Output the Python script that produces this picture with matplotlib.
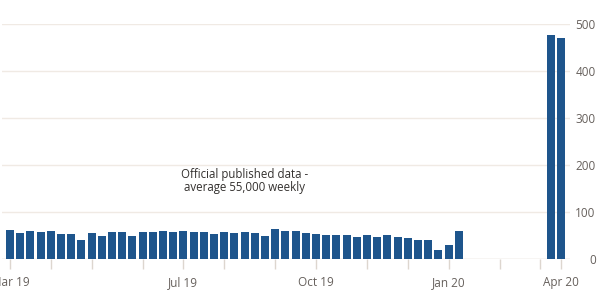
import matplotlib.pyplot as plt

# weekly claims, thousands (weeks from Mar 2019 to Jan 2020)
official = [62, 55, 59.5, 57.5, 59.5, 54.5, 53.5, 40, 56.5, 49.5,
            57, 57, 48.5, 57, 57, 60, 57.5, 59.5, 57, 57.5,
            54.5, 59, 55, 57, 56.5, 48.5, 65, 61, 59.5, 56.5,
            54.5, 51, 52.5, 51, 48, 52.5, 48, 51, 48, 46,
            42, 42, 19, 31, 60]
official_weeks = list(range(len(official)))

# the two latest weeks, late March 2020
recent = [476, 471]
recent_weeks = [53, 54]

month_weeks = [0, 4, 8, 13, 17, 21, 26, 30, 35, 39, 43, 48, 52, 54]
month_labels = ["Mar 19", "", "", "", "Jul 19", "", "", "Oct 19", "", "",
                "Jan 20", "", "", "Apr 20"]
y_ticks = [0, 100, 200, 300, 400, 500]

plt.rcParams["font.family"] = ["Open Sans", "DejaVu Sans"]

bar_color = "#1e558c"
grid_color = "#f0eae4"
text_color = "#66605c"

fig = plt.figure(figsize=(6, 3), dpi=100)
ax = fig.add_axes([2 / 600, 1 - 259.3 / 300, 568 / 600, 235.3 / 300])

ax.bar(official_weeks, official, width=0.78, color=bar_color, zorder=3)
ax.bar(recent_weeks, recent, width=0.78, color=bar_color, zorder=3)

ax.set_xlim(-0.78, 54.9)
ax.set_ylim(0, 500)

for s in ax.spines.values():
    s.set_visible(False)

ax.set_yticks(y_ticks)
ax.yaxis.tick_right()
ax.tick_params(axis="y", length=0, pad=18.5, labelsize=8.5, labelcolor=text_color)
for lab in ax.get_yticklabels():
    lab.set_horizontalalignment("right")
ax.grid(axis="y", color=grid_color, linewidth=1, zorder=0)
ax.axhline(0, color="#e2ddd8", linewidth=1, zorder=1)

ax.set_xticks(month_weeks)
ax.set_xticklabels(month_labels)
ax.tick_params(axis="x", length=7, width=1, color="#ddd6cf", pad=5,
               labelsize=8.5, labelcolor=text_color)

ax.text(23, 166, "Official published data -\naverage 55,000 weekly",
        ha="center", va="center", fontsize=8.3, color="#33302e", linespacing=1.0)

fig.savefig("out.png", dpi=100)
